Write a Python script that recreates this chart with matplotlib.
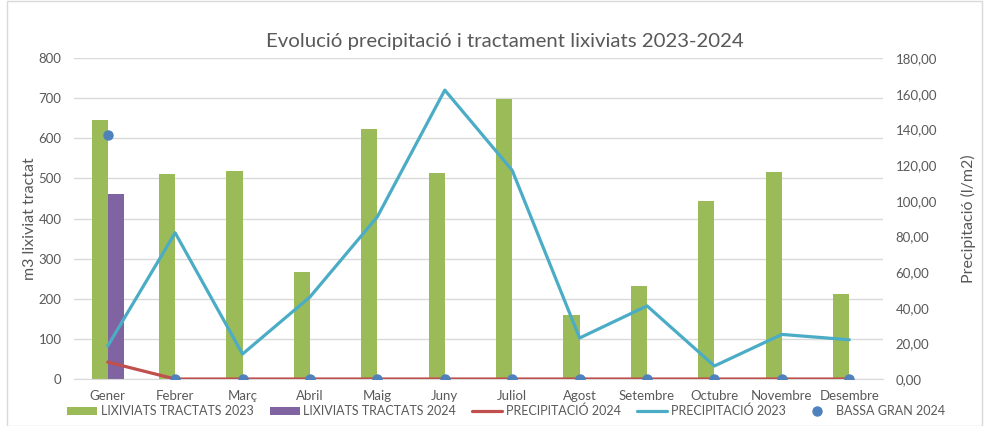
import matplotlib
matplotlib.use("Agg")
import matplotlib.pyplot as plt
import numpy as np
from matplotlib.patches import Rectangle

plt.rcParams['font.family'] = ['Lato', 'DejaVu Sans']

months = ["Gener", "Febrer", "Març", "Abril", "Maig", "Juny", "Juliol",
          "Agost", "Setembre", "Octubre", "Novembre", "Desembre"]
lix_2023 = [646, 511, 519, 267, 623, 514, 698, 160, 232, 444, 516, 212]
lix_2024 = [461, None, None, None, None, None, None, None, None, None, None, None]
prec_2024 = [9.5, 0, 0, 0, 0, 0, 0, 0, 0, 0, 0, 0]
prec_2023 = [18.5, 82, 14, 46, 91, 162, 117, 23, 41, 7.3, 25, 22]
bassa_2024 = [137, 0, 0, 0, 0, 0, 0, 0, 0, 0, 0, 0]

left_ticks = [0, 100, 200, 300, 400, 500, 600, 700, 800]
right_ticks = [0, 20, 40, 60, 80, 100, 120, 140, 160, 180]

C_GREEN = "#9BBB59"
C_PURPLE = "#8064A2"
C_RED = "#C0504D"
C_TEAL = "#4BACC6"
C_BLUE = "#4F81BD"
TXT = "#595959"

fig = plt.figure(figsize=(9.89, 4.26), dpi=100)
ax = fig.add_axes([74/989, 1-379/426, (883-74)/989, (379-58)/426])
ax2 = ax.twinx()

x = np.arange(len(months))
w = 0.24
ax.bar(x - w/2, lix_2023, width=w, color=C_GREEN, label="LIXIVIATS TRACTATS 2023", zorder=2)
v24 = [np.nan if v is None else v for v in lix_2024]
ax.bar(x + w/2, v24, width=w, color=C_PURPLE, label="LIXIVIATS TRACTATS 2024", zorder=2)

ax2.plot(x, prec_2024, color=C_RED, lw=2.3, label="PRECIPITACIÓ 2024", zorder=3, solid_capstyle='round')
ax2.plot(x, prec_2023, color=C_TEAL, lw=2.3, label="PRECIPITACIÓ 2023", zorder=3, solid_capstyle='round')
ax2.plot(x, bassa_2024, linestyle='none', marker='o', ms=6.5, color=C_BLUE, label="BASSA GRAN 2024", zorder=4)

ax.set_xlim(-0.5, len(months) - 0.5)
ax.set_ylim(0, 800)
ax2.set_ylim(0, 180)
ax.set_yticks(left_ticks)
ax.set_yticklabels([str(t) for t in left_ticks])
ax2.set_yticks(right_ticks)
ax2.set_yticklabels([f"{t:.2f}".replace('.', ',') for t in right_ticks])
ax.set_xticks(x)
ax.set_xticklabels(months)

ax.grid(axis='y', color="#D9D9D9", lw=1, zorder=0)
ax.set_axisbelow(True)
for a in (ax, ax2):
    for s in a.spines.values():
        s.set_visible(False)
    a.tick_params(length=0, colors=TXT, labelsize=9.5)
ax.spines['bottom'].set_visible(True)
ax.spines['bottom'].set_color("#D9D9D9")
ax.tick_params(axis='x', pad=8)
ax.tick_params(axis='y', pad=9)
ax2.tick_params(axis='y', pad=9)

ax.set_ylabel("m3 lixiviat tractat", color=TXT, fontsize=11.5)
ax2.set_ylabel("Precipitació (l/m2)", color=TXT, fontsize=11.5, labelpad=17)
ax.yaxis.set_label_coords(-37/809, 0.5)

fig.text(505/989, 1-42/426, "Evolució precipitació i tractament lixiviats 2023-2024",
         ha='center', va='center', fontsize=14.7, color=TXT)

h1, l1 = ax.get_legend_handles_labels()
h2, l2 = ax2.get_legend_handles_labels()
leg = fig.legend(h1 + h2, l1 + l2, loc='center', bbox_to_anchor=(506/989, 1-411/426),
                 ncol=5, frameon=False, fontsize=9, handlelength=2.4,
                 handletextpad=0.3, columnspacing=1.3, labelcolor=TXT)

fig.patches.append(Rectangle((7/989, 0.5/426), 975/989, 1 - 1/426, transform=fig.transFigure,
                             fill=False, edgecolor="#D9D9D9", lw=1))

fig.savefig("out.png", dpi=100, facecolor="white")
